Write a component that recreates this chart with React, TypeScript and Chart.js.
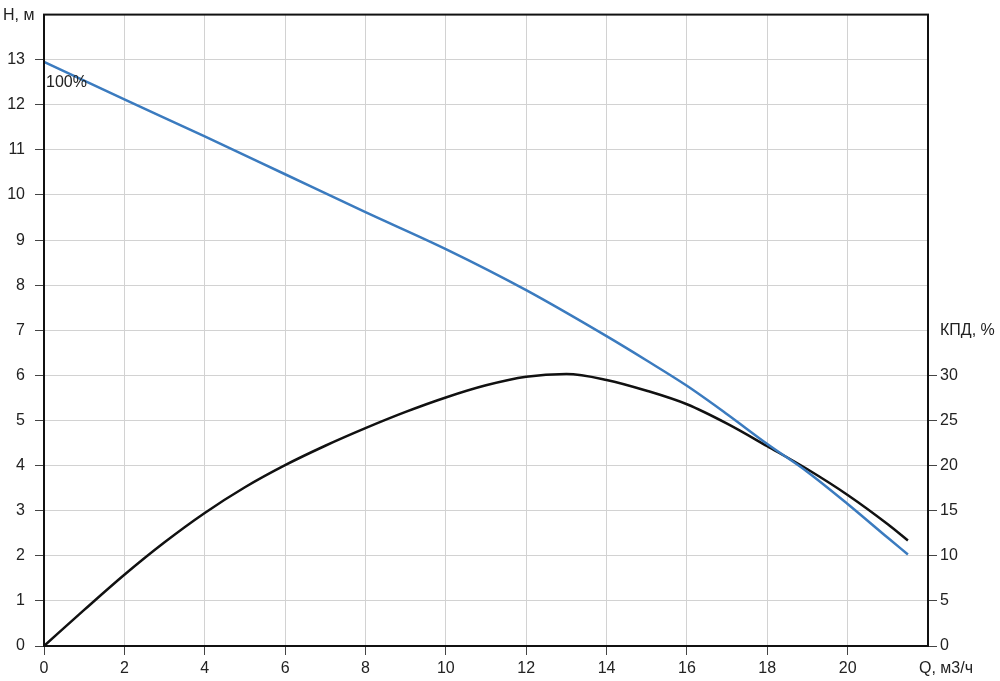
import React, { useEffect, useRef } from 'react';
import { Chart, registerables } from 'chart.js';

Chart.register(...registerables);

// Head curve H(Q)
const headQ = [0, 2, 4, 6, 8, 10, 12, 14, 15, 16, 17, 18, 19, 20, 21, 21.5];
const headH = [12.95, 12.12, 11.3, 10.46, 9.62, 8.8, 7.89, 6.87, 6.33, 5.77, 5.14, 4.48, 3.86, 3.15, 2.4, 2.03];

// Efficiency curve КПД(Q), %
const effQ = [0, 1, 2, 3, 4, 5, 6, 7, 8, 9, 10, 11, 12, 13, 14, 15, 16, 17, 18, 19, 20, 21, 21.5];
const effPct = [0, 4.0, 7.9, 11.5, 14.75, 17.6, 20.05, 22.2, 24.15, 25.95, 27.55, 28.9, 29.85, 30.15, 29.5, 28.3, 26.8, 24.65, 22.15, 19.6, 16.75, 13.5, 11.7];

const xLabel = 'Q, м3/ч';
const yLabel = 'H, м';
const y1Label = 'КПД, %';
const curveLabel = '100%';

const FONT = '"Liberation Sans", Arial, sans-serif';
const TEXT = '#222';
const GRID = '#d2d2d2';
const TICK = '#444';
const SHIFT = 5; // canvas is shifted up by this many pixels

export default function App() {
  const ref = useRef<HTMLCanvasElement | null>(null);

  useEffect(() => {
    const canvas = ref.current;
    if (!canvas) return;

    const overlay = {
      id: 'overlay',
      afterDraw(chart: any) {
        const { ctx, chartArea, scales } = chart;
        ctx.save();
        ctx.strokeStyle = '#111';
        ctx.lineWidth = 2;
        ctx.strokeRect(chartArea.left, chartArea.top, chartArea.right - chartArea.left, chartArea.bottom - chartArea.top);
        ctx.fillStyle = TEXT;
        ctx.font = `16px ${FONT}`;
        ctx.textBaseline = 'alphabetic';
        ctx.textAlign = 'left';
        ctx.fillText(yLabel, 3, 20 + SHIFT);
        ctx.fillText(xLabel, scales.x.getPixelForValue(22) - 9, 673 + SHIFT);
        ctx.fillText(curveLabel, scales.x.getPixelForValue(0) + 2, 87 + SHIFT);
        ctx.restore();
      },
    };

    const chart = new Chart(canvas, {
      type: 'line',
      data: {
        datasets: [
          {
            label: 'H',
            data: headQ.map((q, i) => ({ x: q, y: headH[i] })),
            borderColor: '#3b7bbf',
            borderWidth: 2.5,
            pointRadius: 0,
            cubicInterpolationMode: 'monotone',
            yAxisID: 'y',
          },
          {
            label: 'КПД',
            data: effQ.map((q, i) => ({ x: q, y: effPct[i] })),
            borderColor: '#111',
            borderWidth: 2.5,
            pointRadius: 0,
            cubicInterpolationMode: 'monotone',
            yAxisID: 'y1',
          },
        ],
      },
      options: {
        animation: false,
        responsive: false,
        devicePixelRatio: 1,
        layout: { padding: { top: 5, left: 0, right: 0, bottom: 0 } },
        plugins: { legend: { display: false }, tooltip: { enabled: false } },
        scales: {
          x: {
            type: 'linear',
            min: 0,
            max: 22,
            border: { display: false },
            grid: {
              color: (c: any) => (c.tick && (c.tick.value === 0 || c.tick.value === 22) ? 'rgba(0,0,0,0)' : GRID),
              tickColor: (c: any) => (c.tick && c.tick.value === 22 ? 'rgba(0,0,0,0)' : TICK),
              tickLength: 9,
              tickWidth: 1,
            },
            ticks: {
              stepSize: 2,
              autoSkip: false,
              maxRotation: 0,
              padding: 4,
              color: TEXT,
              font: { family: FONT, size: 16 },
              callback: (v: any) => (v === 22 ? '' : String(v)),
            },
            afterFit: (s: any) => {
              s.height = 35;
            },
          },
          y: {
            type: 'linear',
            position: 'left',
            min: 0,
            max: 14,
            border: { display: false },
            grid: {
              color: (c: any) => (c.tick && (c.tick.value === 0 || c.tick.value === 14) ? 'rgba(0,0,0,0)' : GRID),
              tickColor: (c: any) => (c.tick && c.tick.value === 14 ? 'rgba(0,0,0,0)' : TICK),
              tickLength: 9,
              tickWidth: 1,
            },
            ticks: {
              stepSize: 1,
              autoSkip: false,
              padding: 10,
              color: TEXT,
              font: { family: FONT, size: 16 },
              callback: (v: any) => (v === 14 ? '' : String(v)),
            },
            afterFit: (s: any) => {
              s.width = 44;
            },
          },
          y1: {
            type: 'linear',
            position: 'right',
            min: 0,
            max: 70,
            border: { display: false },
            grid: {
              drawOnChartArea: false,
              tickColor: (c: any) => (c.tick && c.tick.value <= 30 ? TICK : 'rgba(0,0,0,0)'),
              tickLength: 9,
              tickWidth: 1,
            },
            ticks: {
              stepSize: 5,
              autoSkip: false,
              padding: 3,
              color: TEXT,
              font: { family: FONT, size: 16 },
              callback: (v: any) => (v <= 30 ? String(v) : v === 35 ? y1Label : ''),
            },
            afterFit: (s: any) => {
              s.width = 72;
            },
          },
        },
      },
      plugins: [overlay],
    } as any);

    return () => chart.destroy();
  }, []);

  return (
    <div style={{ position: 'fixed', left: 0, top: 0, width: 1000, height: 681, background: '#fff', overflow: 'hidden' }}>
      <canvas
        ref={ref}
        width={1000}
        height={681 + SHIFT}
        style={{ display: 'block', position: 'absolute', left: 0, top: -SHIFT, width: 1000, height: 681 + SHIFT }}
      />
    </div>
  );
}
